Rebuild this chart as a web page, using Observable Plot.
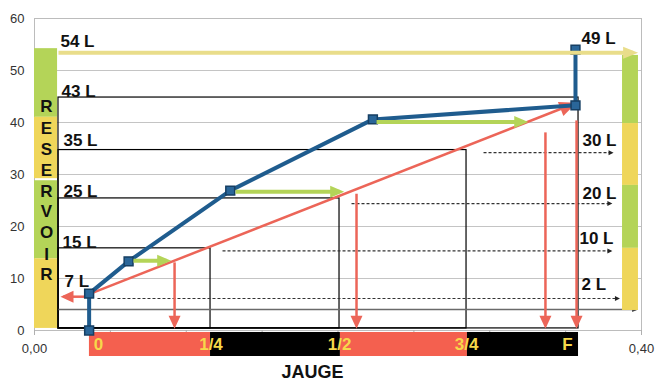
<!DOCTYPE html>
<html><head><meta charset="utf-8">
<script src="https://cdn.jsdelivr.net/npm/d3@7"></script>
<script src="https://cdn.jsdelivr.net/npm/@observablehq/plot@0.6"></script>
<style>body{margin:0;background:#fff} svg{display:block}</style>
</head><body><div id="chart"></div>
<script>
// ---- axes ----
const yTicks = [0,10,20,30,40,50,60];
const yGrid = [10,20,30,40,50,60];
const xTicks = [0,0.05,0.1,0.15,0.2,0.25,0.3,0.35,0.4];
const xTickLabels = [0,0.4];

// ---- blue curve (jauge -> litres) ----
const curveX = [0.036,0.036,0.062,0.129,0.223,0.3565,0.3565];
const curveY = [0,7.1,13.3,26.9,40.6,43.3,54.0];

// ---- level boxes ----
const boxTop = [44.8,34.7,25.4,15.8];
const boxRight = [0.3585,0.2847,0.2010,0.1160];
const boxLeft = 0.0158, boxBottom = 0.4;

// ---- gauge bar ----
const gaugeStops = [0.0362,0.1160,0.2016,0.2853,0.3585];
const gaugeKind = ["r","k","r","k"];
const gaugeTop = -0.38, gaugeBottom = -5.0;
const gaugeLabels = ["0","1/4","1/2","3/4","F"];
const gaugeLabelX = [0.0422,0.1163,0.2010,0.2847,0.3512];
const gaugeLabelY = -2.7;
const axisTitle = "JAUGE", axisTitleX = 0.1832, axisTitleY = -8.1;

// ---- reservoir bars ----
const resLeftTop = [54.2,41.0,28.8,13.8];
const resLeftBottom = [41.0,29.2,13.8,0.4];
const resRightTop = [52.9,39.8,27.9,15.8];
const resRightBottom = [39.8,27.9,15.8,3.85];
const resKind = ["g","y","g","y"];
const resLeftX = [0,0.0152];
const resRightX = [0.3875,0.398];
const resLetters = ["R","E","S","E","R","V","O","I","R"];
const resLetterY = [43.1,38.9,34.8,30.7,26.7,22.9,18.8,14.6,10.7];
const resLetterX = 0.0079;

// ---- labels ----
const leftLabels = ["54 L","43 L","35 L","25 L","15 L","7 L"];
const leftLabelY = [55.6,46.0,36.6,26.7,16.9,9.4];
const leftLabelX = [0.0171,0.0178,0.0191,0.0191,0.0185,0.0198];
const rightLabels = ["49 L","30 L","20 L","10 L","2 L"];
const rightLabelY = [56.1,36.5,26.3,17.7,8.85];
const rightLabelX = [0.3605,0.3611,0.3611,0.3591,0.3605];

// ---- arrows ----
const greenY = [13.4,26.7,40.1];
const greenX1 = [0.0652,0.1325,0.2254];
const greenX2 = [0.0870,0.2010,0.3223];
const dropX = [0.0923,0.2122,0.3367,0.3572];
const dropTop = [13.1,26.3,38.1,40.4];
const dropBottom = 0.85;
const redMain = {x1:0.0369,y1:7.1,x2:0.3554,y2:43.6};
const redLeft = {x1:0.0356,y1:6.5,x2:0.0189,y2:6.5};
const yellowLine = {x1:0.0158,x2:0.3945,y:53.4};
const dotY = [6.15,15.3,24.4,34.2];
const dotX1 = [0.0415,0.1239,0.2089,0.2959];
const dotX2 = [0.385,0.380,0.380,0.3808];
const grayLine = {x1:0.0158,x2:0.3966,y:4.04};

// ---- build tables ----
const blue = curveX.map((x,i)=>({x,y:curveY[i]}));
const boxes = boxTop.map((t,i)=>({x1:boxLeft,x2:boxRight[i],y1:boxBottom,y2:t}));
const gauge = gaugeKind.map((k,i)=>({x1:gaugeStops[i],x2:gaugeStops[i+1],k}));
const gaugeText = gaugeLabels.map((t,i)=>({t,x:gaugeLabelX[i],y:gaugeLabelY}));
const resL = resKind.map((k,i)=>({k,y1:resLeftTop[i],y2:resLeftBottom[i],x1:resLeftX[0],x2:resLeftX[1]}));
const resR = resKind.map((k,i)=>({k,y1:resRightTop[i],y2:resRightBottom[i],x1:resRightX[0],x2:resRightX[1]}));
const letters = resLetters.map((t,i)=>({t,x:resLetterX,y:resLetterY[i]}));
const lLabels = leftLabels.map((t,i)=>({t,x:leftLabelX[i],y:leftLabelY[i]}));
const rLabels = rightLabels.map((t,i)=>({t,x:rightLabelX[i],y:rightLabelY[i]}));
const greens = greenY.map((y,i)=>({x1:greenX1[i],x2:greenX2[i],y}));
const drops = dropX.map((x,i)=>({x,y1:dropTop[i],y2:dropBottom}));
const dots = dotY.map((y,i)=>({y,x1:dotX1[i],x2:dotX2[i]}));

const C = {blue:"#1f5c8e", red:"#ec6558", gaugeRed:"#f4604f", green:"#b4d458", yellow:"#efd65a", lineYellow:"#e9dd8a", gold:"#f6d84a"};
const fill2 = k => k==="g"?C.green:C.yellow;

const svg = Plot.plot({
  width:657, height:383,
  marginLeft:34, marginRight:16, marginTop:18, marginBottom:53,
  x:{domain:[0,0.4]}, y:{domain:[0,60]},
  style:{fontFamily:"'Liberation Sans', Arial, sans-serif", background:"#fff", color:"#222", overflow:"visible"},
  marks:[
    Plot.gridY({ticks:yGrid, stroke:"#c4c4c4", strokeOpacity:1}),
    Plot.frame({stroke:"#bcbcbc"}),
    Plot.axisY({ticks:yTicks, tickSize:0, tickPadding:10, fontSize:13, label:null, color:"#333"}),
    Plot.axisX({ticks:xTicks, tickSize:5, tickFormat:()=>"", label:null, color:"#b0b0b0"}),
    Plot.axisX({ticks:xTickLabels, tickSize:0, tickPadding:13, fontSize:13, label:null, color:"#333", tickFormat:d=>d.toFixed(2).replace(".",",")}),
    Plot.rect(boxes,{x1:"x1",x2:"x2",y1:"y1",y2:"y2",fill:"none",stroke:"#000",strokeWidth:1.2}),
    Plot.link(dots,{x1:"x1",x2:"x2",y1:"y",y2:"y",stroke:"#333",strokeWidth:1.2,strokeDasharray:"3,2",ariaDescription:"h-dot"}),
    Plot.link([grayLine],{x1:"x1",x2:"x2",y1:"y",y2:"y",stroke:"#6a6a6a",strokeWidth:1.5,ariaDescription:"h-gray"}),
    Plot.rect(resL,{x1:"x1",x2:"x2",y1:"y1",y2:"y2",fill:d=>fill2(d.k)}),
    Plot.rect(resR,{x1:"x1",x2:"x2",y1:"y1",y2:"y2",fill:d=>fill2(d.k)}),
    Plot.rect(gauge,{x1:"x1",x2:"x2",y1:gaugeTop,y2:gaugeBottom,fill:d=>d.k==="r"?C.gaugeRed:"#000"}),
    Plot.text(gaugeText,{x:"x",y:"y",text:"t",fill:C.gold,fontWeight:"bold",fontSize:17}),
    Plot.text([axisTitle],{x:axisTitleX,y:axisTitleY,text:d=>d,fill:"#111",fontWeight:"bold",fontSize:18}),
    Plot.link([redMain],{x1:"x1",y1:"y1",x2:"x2",y2:"y2",stroke:C.red,strokeWidth:2.5,ariaDescription:"h-redbig"}),
    Plot.link([redLeft],{x1:"x1",y1:"y1",x2:"x2",y2:"y2",stroke:C.red,strokeWidth:2.5,ariaDescription:"h-red"}),
    Plot.link(drops,{x1:"x",x2:"x",y1:"y1",y2:"y2",stroke:C.red,strokeWidth:2.5,ariaDescription:"h-red"}),
    Plot.line(blue,{x:"x",y:"y",stroke:C.blue,strokeWidth:4}),
    Plot.dot(blue,{x:"x",y:"y",symbol:"square",r:5,fill:"#2a6699",stroke:"#163f63",strokeWidth:1.5}),
    Plot.link(greens,{x1:"x1",x2:"x2",y1:"y",y2:"y",stroke:C.green,strokeWidth:4,ariaDescription:"h-green"}),
    Plot.link([yellowLine],{x1:"x1",x2:"x2",y1:"y",y2:"y",stroke:C.lineYellow,strokeWidth:4,ariaDescription:"h-yellow"}),
    Plot.text(letters,{x:"x",y:"y",text:"t",fill:"#111",fontWeight:"bold",fontSize:17}),
    Plot.text(lLabels,{x:"x",y:"y",text:"t",textAnchor:"start",fill:"#111",fontWeight:"bold",fontSize:17}),
    Plot.text(rLabels,{x:"x",y:"y",text:"t",textAnchor:"start",fill:"#111",fontWeight:"bold",fontSize:17})
  ]
});

// arrowheads as SVG markers
const NS = "http://www.w3.org/2000/svg";
const defs = document.createElementNS(NS,"defs");
svg.insertBefore(defs, svg.firstChild);
function head(id,color,L,h,sw){
  const m = document.createElementNS(NS,"marker");
  m.setAttribute("id",id); m.setAttribute("markerUnits","userSpaceOnUse");
  m.setAttribute("orient","auto"); m.setAttribute("overflow","visible");
  m.setAttribute("style","overflow:visible");
  m.setAttribute("markerWidth",40); m.setAttribute("markerHeight",40);
  m.setAttribute("refX",0); m.setAttribute("refY",0);
  const d = sw*L/(2*h);
  const p = document.createElementNS(NS,"path");
  p.setAttribute("d",`M${d},0L${d-L},${-h}L${d-L},${h}Z`);
  p.setAttribute("fill",color); p.setAttribute("stroke","none");
  m.appendChild(p); defs.appendChild(m);
  svg.querySelectorAll(`[aria-description="${id}"] path`).forEach(el=>el.setAttribute("marker-end",`url(#${id})`));
}
head("h-dot","#222",5,2.5,1.2);
head("h-gray","#444",6,2.5,1.5);
head("h-red",C.red,13,6,2.5);
head("h-redbig",C.red,17,7.5,2.5);
head("h-green",C.green,14,6,4);
head("h-yellow",C.lineYellow,15,6,4);

document.getElementById("chart").appendChild(svg);
</script>
</body></html>
